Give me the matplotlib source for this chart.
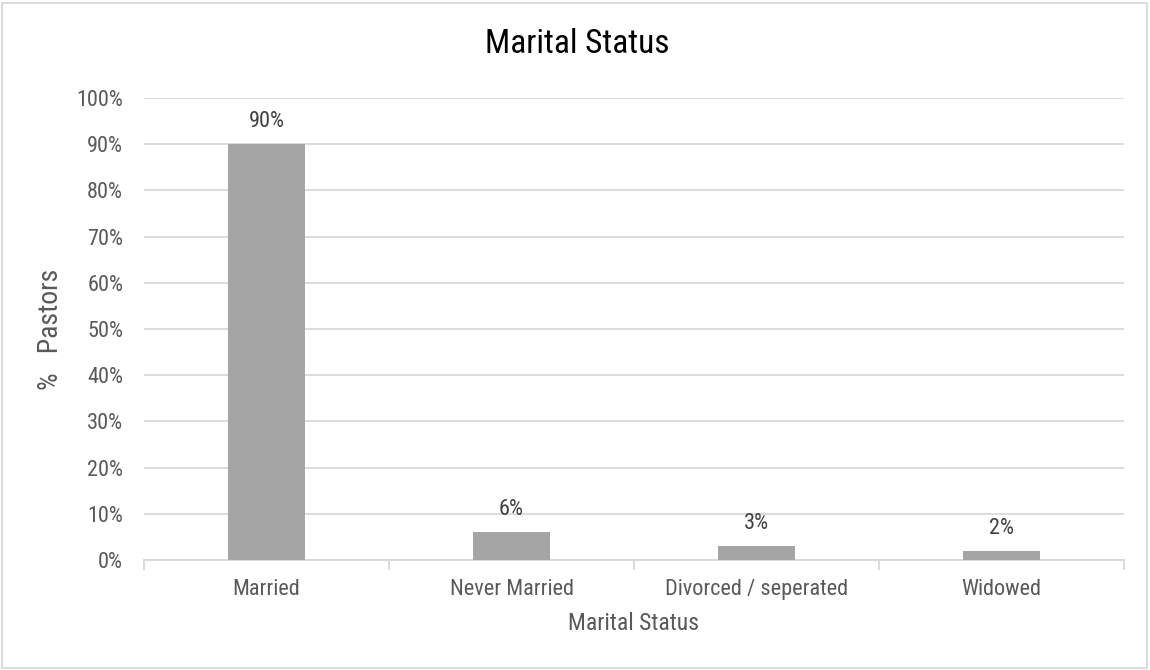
import matplotlib.pyplot as plt
from matplotlib.ticker import PercentFormatter
from matplotlib.patches import Rectangle

categories = ['Married', 'Never Married', 'Divorced / seperated', 'Widowed']
pct_pastors = [90, 6, 3, 2]
y_ticks = list(range(0, 101, 10))

plt.rcParams['font.family'] = ['Roboto Condensed', 'Archivo Narrow', 'Liberation Sans']
text_color = '#595959'
grid_color = '#D9D9D9'

fig = plt.figure(figsize=(11.5, 6.7), dpi=100)
ax = fig.add_axes([144 / 1150, 1 - 560 / 670, 980 / 1150, 462 / 670])

x = range(len(categories))
bars = ax.bar(x, pct_pastors, width=0.315, color='#A5A5A5', zorder=3)
for b, v in zip(bars, pct_pastors):
    ax.text(b.get_x() + b.get_width() / 2, v + 2.6, f'{v}%', ha='center', va='bottom',
            fontsize=16, color='#404040')

ax.set_xlim(-0.5, len(categories) - 0.5)
ax.set_ylim(0, 100)
ax.set_yticks(y_ticks)
ax.yaxis.set_major_formatter(PercentFormatter(decimals=0))
ax.set_xticks(list(x))
ax.set_xticklabels(categories)
ax.set_xticks([i - 0.5 for i in range(len(categories) + 1)], minor=True)

ax.grid(axis='y', color=grid_color, lw=1.3, zorder=0)
for s in ['top', 'right', 'left']:
    ax.spines[s].set_visible(False)
ax.spines['bottom'].set_color(grid_color)
ax.spines['bottom'].set_linewidth(1.3)

ax.tick_params(axis='y', length=0, pad=15, labelsize=16, labelcolor=text_color)
ax.tick_params(axis='x', which='major', length=0, pad=14, labelsize=16, labelcolor=text_color)
ax.tick_params(axis='x', which='minor', length=7, width=1.3, color=grid_color)

ax.set_xlabel('Marital Status', fontsize=17, color=text_color, labelpad=8)
ax.set_ylabel('%   Pastors', fontsize=20, color=text_color, labelpad=9)
fig.text(577 / 1150, 1 - 44 / 670, 'Marital Status', ha='center', va='center', fontsize=24,
         color='#000000')

fig.patches.append(Rectangle((2 / 1150, 2 / 670), 1145 / 1150, 665 / 670,
                             transform=fig.transFigure, fill=False,
                             edgecolor='#D9D9D9', lw=1.3))

fig.savefig('out.png', dpi=100)
